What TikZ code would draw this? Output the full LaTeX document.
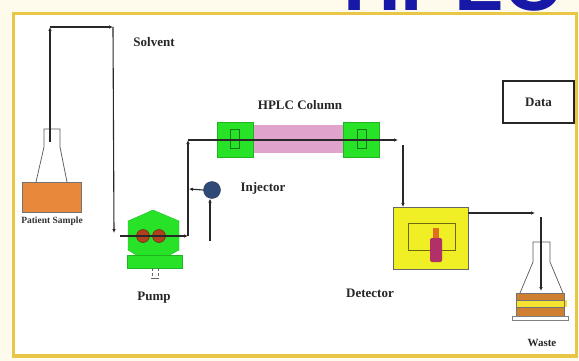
\documentclass[tikz,border=0pt]{standalone}
\usepackage{fontspec}
\setmainfont{Liberation Serif}
\newfontfamily\titlefont{Liberation Sans}
\usetikzlibrary{arrows.meta,calc}

\definecolor{framegold}{RGB}{232,198,70}
\definecolor{cream}{RGB}{255,251,236}
\definecolor{titleblue}{RGB}{24,24,168}
\definecolor{pumpgreen}{RGB}{40,226,40}
\definecolor{darkgreen}{RGB}{20,120,20}
\definecolor{columnpink}{RGB}{224,164,204}
\definecolor{sampleorange}{RGB}{232,136,58}
\definecolor{detyellow}{RGB}{240,238,36}
\definecolor{injblue}{RGB}{48,74,120}
\definecolor{rotorred}{RGB}{176,64,30}
\definecolor{vialred}{RGB}{178,48,104}
\definecolor{vialcap}{RGB}{224,112,32}
\definecolor{wastebrown}{RGB}{206,128,48}
\definecolor{wasteyellow}{RGB}{246,226,48}
\definecolor{pipegray}{RGB}{40,40,40}

\tikzset{
  pipe/.style={draw=pipegray, line width=1.1pt},
  flow/.style={pipe, -{Latex[length=4pt,width=3.6pt]}},
  glass/.style={draw=black!65, line width=0.7pt},
  lbl/.style={font=\fontsize{13}{13}\selectfont\bfseries, text=black!85, inner sep=0pt},
  smalllbl/.style={font=\fontsize{9.5}{9.5}\selectfont\bfseries, text=black!80, inner sep=0pt},
  greenblock/.style={fill=pumpgreen, draw=pumpgreen!80!black, line width=0.4pt},
  insert/.style={draw=darkgreen, line width=0.6pt}
}

\begin{document}
\begin{tikzpicture}[x=1pt,y=-1pt]
\useasboundingbox (0,0) rectangle (579,361);
\begin{scope}
\clip (0,0) rectangle (579,361);

% page background and framed panel
\fill[cream] (0,0) rectangle (579,361);
\node[anchor=base west, inner sep=0pt, text=titleblue,
      font=\titlefont\bfseries\fontsize{80}{80}\selectfont] (title) at (343,11) {HPLC};
\filldraw[fill=white, draw=framegold, line width=3.6pt] (13.5,13.5) rectangle (576.5,356);

% ---- patient sample flask ----
\fill[sampleorange, draw=black!55, line width=0.6pt] (22,182) rectangle (81,212);
\draw[glass] (36,182) -- (44,147) -- (44,129) -- (60,129) -- (60,147) -- (67,182);
\node[smalllbl] (samplelbl) at (52,221) {Patient Sample};
\coordinate (sampleTip) at (50,142);

% ---- solvent line ----
\coordinate (solventTL) at (50,27);
\coordinate (solventTR) at (113,27);
\coordinate (pumpIn) at (114,233);
\node[lbl] (solventlbl) at (154,42) {Solvent};

% ---- pump ----
\fill[pumpgreen, draw=pumpgreen!85!black, line width=0.4pt]
  (153,210) -- (179,221) -- (179,250) -- (168,256) -- (138,256) -- (128,250) -- (128,221) -- cycle;
\node[greenblock, minimum width=55pt, minimum height=13pt, inner sep=0pt] (pumpbase) at (154.5,261.5) {};
\draw[black!60, densely dashed, line width=0.5pt] (152,268) -- (152,278) (158,268) -- (158,278);
\draw[black!60, line width=0.5pt] (151,278) -- (159,278);
\filldraw[fill=rotorred, draw=rotorred!60!black, line width=0.5pt] (143,236) circle (6.5);
\filldraw[fill=rotorred, draw=rotorred!60!black, line width=0.5pt] (159,236) circle (6.5);
\coordinate (pumpL) at (120,236);
\coordinate (pumpR) at (188,236);
\node[lbl] (pumplbl) at (154,298) {Pump};

% ---- injector ----
\node[circle, fill=injblue, draw=injblue!70!black, minimum size=17pt, inner sep=0pt] (inj) at (212,190) {};
\coordinate (injTap) at (189,189);
\coordinate (injFoot) at (210,241);
\node[lbl] (injlbl) at (263,188) {Injector};

% ---- HPLC column ----
\fill[columnpink] (252,125) rectangle (344,153);
\node[greenblock, minimum width=36pt, minimum height=35pt, inner sep=0pt] (colL) at (235,139.5) {};
\node[greenblock, minimum width=36pt, minimum height=35pt, inner sep=0pt] (colR) at (361.5,139.5) {};
\draw[insert] (230,129) rectangle (239,148);
\draw[insert] (357,129) rectangle (366,148);
\coordinate (colTurn) at (188,140);
\coordinate (colOut) at (398,140);
\node[lbl] (collbl) at (300,105) {HPLC Column};

% ---- detector ----
\node[fill=detyellow, draw=black!60, line width=0.7pt, minimum width=75pt, minimum height=62pt, inner sep=0pt] (det) at (430.5,238) {};
\draw[draw=black!55!detyellow, line width=0.8pt] (408,223) rectangle (455,250);
\fill[vialcap] (433,228) rectangle (439,238);
\fill[vialred, rounded corners=1.5pt] (430,238) rectangle (442,262);
\coordinate (detDrop) at (403,145);
\coordinate (detIn) at (403,207);
\coordinate (detOut) at (468,213);
\coordinate (wasteTurn) at (535,213);
\node[lbl] (detlbl) at (370,293) {Detector};

% ---- waste flask ----
\fill[wastebrown] (516,293) rectangle (564,316);
\fill[wasteyellow] (516,300) rectangle (567,307);
\draw[black!55, line width=0.5pt] (516,293) rectangle (564,316);
\draw[black!55, line width=0.5pt] (516,300) -- (564,300) (516,307) -- (564,307);
\draw[black!50, fill=white, line width=0.6pt] (512,316) rectangle (568,320);
\draw[glass] (520,293) -- (533,262) -- (533,242) -- (550,242) -- (550,262) -- (563,293);
\coordinate (wasteTop) at (541,217);
\coordinate (wasteIn) at (541,291);
\node[font=\fontsize{11}{11}\selectfont\bfseries, text=black!85, inner sep=0pt] (wastelbl) at (542,343) {Waste};

% ---- data box ----
\node[draw=black!85, line width=1.3pt, minimum width=71pt, minimum height=42pt, inner sep=0pt,
      lbl] (data) at (538.5,102) {Data};

% ---- flow connections ----
\draw[flow] (sampleTip) -- (solventTL);
\draw[flow] (solventTL) -- (solventTR);
\draw[flow] (solventTR) -- (pumpIn);
\draw[flow] (pumpL) -- (pumpR);
\draw[flow] (pumpR) -- (colTurn);
\draw[flow] (colTurn) -- (colOut);
\draw[flow] (inj.west) -- (injTap);
\draw[flow] (injFoot) -- (inj.south -| injFoot);
\draw[flow] (detDrop) -- (detIn);
\draw[flow] (detOut) -- (wasteTurn);
\draw[flow] (wasteTop) -- (wasteIn);
\end{scope}
\end{tikzpicture}
\end{document}
